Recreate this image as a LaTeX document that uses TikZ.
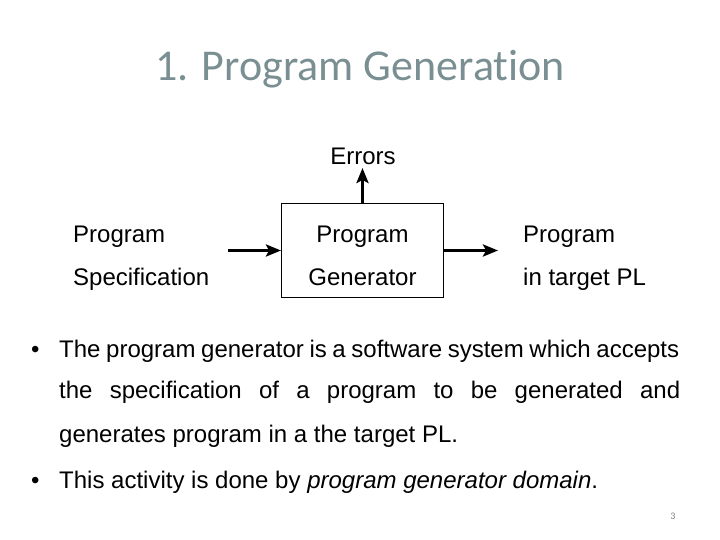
\documentclass[tikz,border=0pt]{standalone}
\usepackage{fontspec}
\setmainfont{Liberation Sans}
\newfontfamily\titlefont[Ligatures={NoCommon}]{Carlito}
\usetikzlibrary{arrows.meta}
\definecolor{titlegray}{RGB}{122,143,146}
\definecolor{pagegray}{RGB}{128,128,128}
\begin{document}
\begin{tikzpicture}[x=1pt,y=-1pt,
  lbl/.style={font=\fontsize{24}{28}\selectfont, inner sep=0pt},
  arr/.style={line width=3.5pt, -{Stealth[length=15pt,width=12pt,inset=3pt]}},
  genbox/.style={draw, line width=1pt, minimum width=162pt, minimum height=93pt, inner sep=0pt},
  bullettext/.style={font=\fontsize{24}{28}\selectfont, inner sep=0pt, anchor=base west}]
\useasboundingbox (0,0) rectangle (720,540);
\node[font=\titlefont\fontsize{44}{50}\selectfont, text=titlegray, inner sep=0pt, anchor=base] (title) at (360,81) {1. Program Generation};
\node[genbox] (gen) at (362.5,250.5) {};
\node[lbl, anchor=base] (gen1) at (362.5,243) {Program};
\node[lbl, anchor=base] (gen2) at (362.5,285) {Generator};
\node[lbl, anchor=base] (err) at (363,165) {Errors};
\node[lbl, anchor=base west] (spec1) at (73,243) {Program};
\node[lbl, anchor=base west] (spec2) at (73,285) {Specification};
\node[lbl, anchor=base west] (out1) at (523,243) {Program};
\node[lbl, anchor=base west] (out2) at (523,285) {in target PL};
\coordinate (ls) at (228,250.5);
\coordinate (re) at (498,250.5);
\coordinate (et) at (362.5,168);
\draw[arr] (ls) -- (gen.west);
\draw[arr] (gen.east) -- (re);
\draw[arr] (gen.north) -- (et);
\node[bullettext] (b1) at (31,357) {•};
\node[bullettext] (l1) at (59,357) {\makebox[620pt][s]{The program generator is a software system which accepts}};
\node[bullettext] (l2) at (59,398) {\makebox[621pt][s]{the specification of a program to be generated and}};
\node[bullettext] (l3) at (59,442) {generates program in a the target PL.};
\node[bullettext] (b2) at (31,488) {•};
\node[bullettext] (l4) at (59,488) {This activity is done by \textit{program generator domain}.};
\node[font=\titlefont\fontsize{10}{12}\selectfont, text=pagegray, inner sep=0pt, anchor=base] (pg) at (673,519) {3};
\end{tikzpicture}
\end{document}
